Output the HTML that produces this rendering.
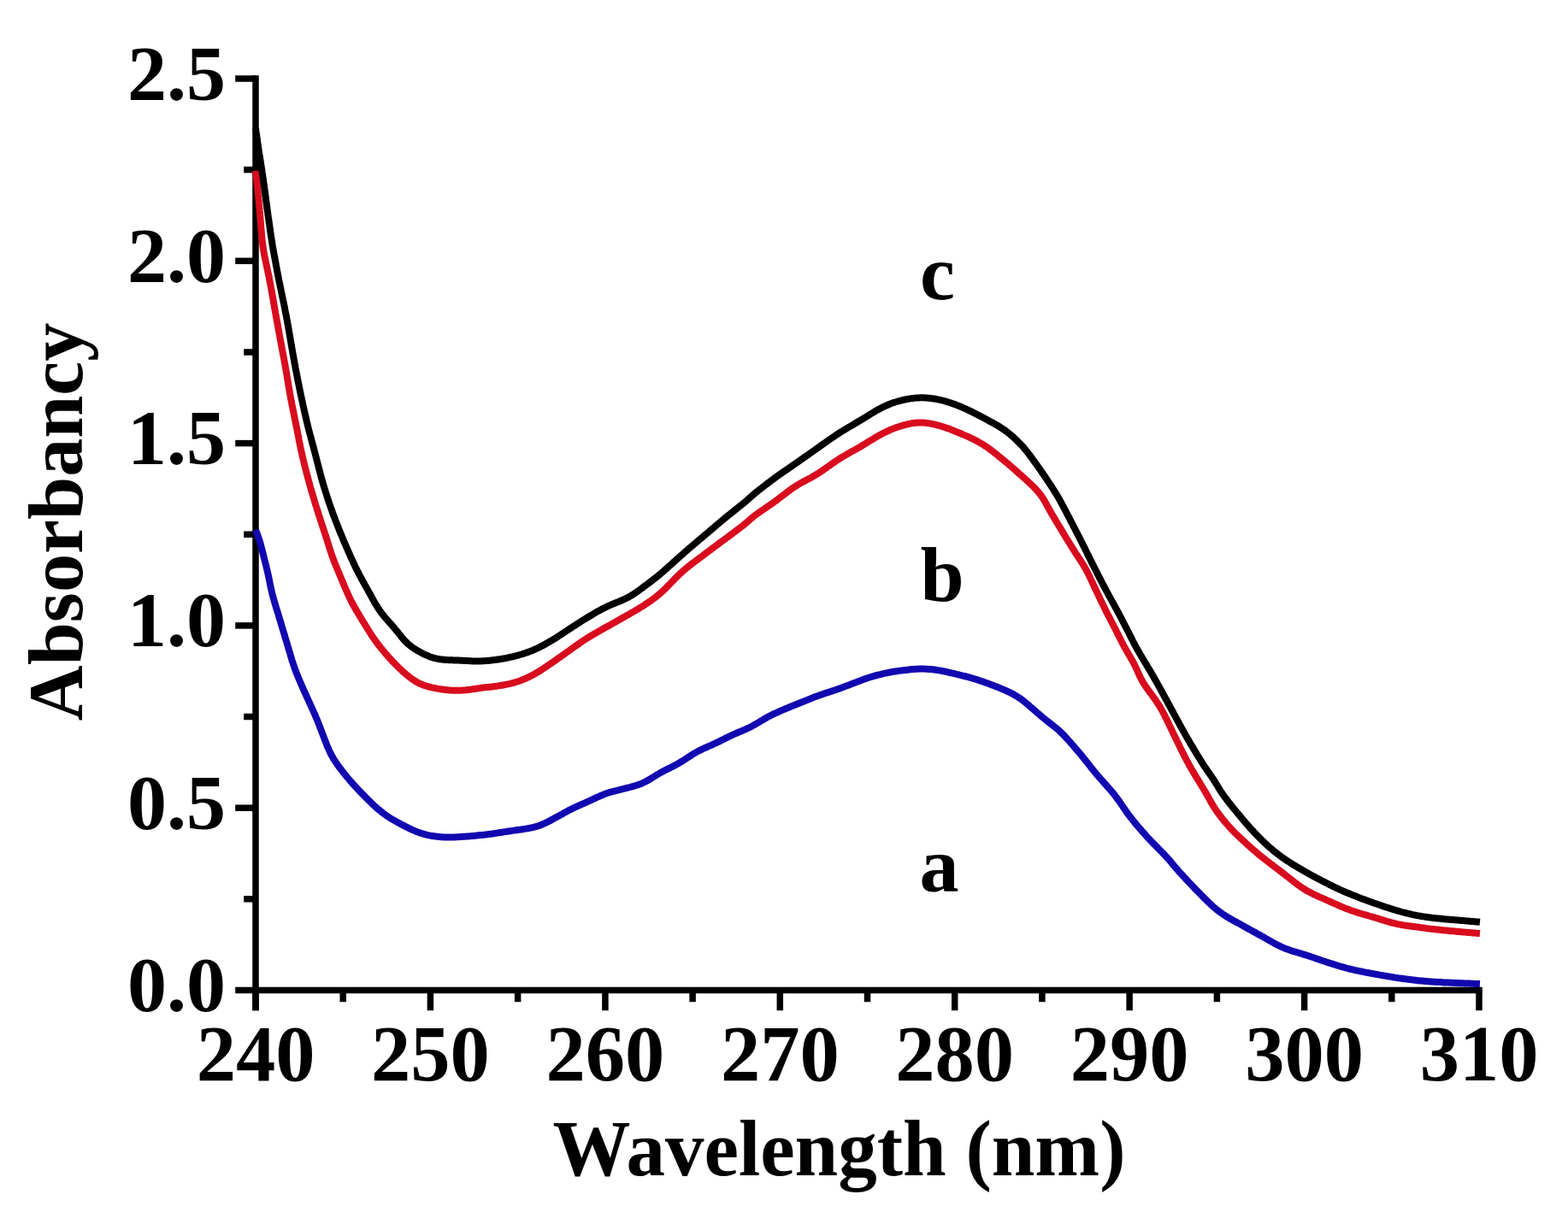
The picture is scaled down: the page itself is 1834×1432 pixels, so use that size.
<!DOCTYPE html>
<html><head><meta charset="utf-8"><style>
html,body{margin:0;padding:0;background:#fff;width:1834px;height:1432px;overflow:hidden}
svg{display:block}
text{font-family:"Liberation Serif","Times New Roman",serif;font-weight:bold;fill:#000}
</style></head><body>
<svg width="1834" height="1432" viewBox="0 0 1834 1432">
<rect width="1834" height="1432" fill="#fff"/>
<g stroke="#000" stroke-width="7.5" stroke-linecap="butt">
<line x1="299" y1="88.25" x2="299" y2="1182.25"/>
<line x1="295.25" y1="1158.5" x2="1733.75" y2="1158.5"/>
<line x1="275.2" y1="1158.5" x2="299.0" y2="1158.5"/>
<line x1="285.2" y1="1051.8" x2="299.0" y2="1051.8"/>
<line x1="275.2" y1="945.2" x2="299.0" y2="945.2"/>
<line x1="285.2" y1="838.5" x2="299.0" y2="838.5"/>
<line x1="275.2" y1="731.9" x2="299.0" y2="731.9"/>
<line x1="285.2" y1="625.2" x2="299.0" y2="625.2"/>
<line x1="275.2" y1="518.6" x2="299.0" y2="518.6"/>
<line x1="285.2" y1="412.0" x2="299.0" y2="412.0"/>
<line x1="275.2" y1="305.3" x2="299.0" y2="305.3"/>
<line x1="285.2" y1="198.6" x2="299.0" y2="198.6"/>
<line x1="275.2" y1="92.0" x2="299.0" y2="92.0"/>
<line x1="299.0" y1="1158.5" x2="299.0" y2="1182.2"/>
<line x1="401.2" y1="1158.5" x2="401.2" y2="1172.2"/>
<line x1="503.4" y1="1158.5" x2="503.4" y2="1182.2"/>
<line x1="605.6" y1="1158.5" x2="605.6" y2="1172.2"/>
<line x1="707.9" y1="1158.5" x2="707.9" y2="1182.2"/>
<line x1="810.1" y1="1158.5" x2="810.1" y2="1172.2"/>
<line x1="912.3" y1="1158.5" x2="912.3" y2="1182.2"/>
<line x1="1014.5" y1="1158.5" x2="1014.5" y2="1172.2"/>
<line x1="1116.7" y1="1158.5" x2="1116.7" y2="1182.2"/>
<line x1="1218.9" y1="1158.5" x2="1218.9" y2="1172.2"/>
<line x1="1321.1" y1="1158.5" x2="1321.1" y2="1182.2"/>
<line x1="1423.4" y1="1158.5" x2="1423.4" y2="1172.2"/>
<line x1="1525.6" y1="1158.5" x2="1525.6" y2="1182.2"/>
<line x1="1627.8" y1="1158.5" x2="1627.8" y2="1172.2"/>
<line x1="1730.0" y1="1158.5" x2="1730.0" y2="1182.2"/>
</g>
<g fill="none" stroke-linejoin="round" stroke-linecap="butt">
<path d="M299.0 620.0 L299.7 621.9 L300.5 623.7 L301.2 625.6 L301.9 627.5 L302.5 629.3 L303.2 631.2 L303.8 633.1 L304.3 635.1 L304.9 637.0 L305.4 638.9 L305.9 640.9 L306.4 642.8 L306.9 644.7 L307.4 646.7 L307.9 648.6 L308.3 650.6 L308.8 652.5 L309.3 654.4 L309.8 656.4 L310.3 658.3 L310.8 660.3 L311.3 662.2 L311.7 664.1 L312.2 666.1 L312.7 668.0 L313.1 670.0 L313.6 671.9 L314.0 673.9 L314.4 675.8 L314.8 677.8 L315.2 679.8 L315.6 681.7 L316.0 683.7 L316.4 685.6 L316.8 687.6 L317.2 689.6 L317.7 691.5 L318.1 693.5 L318.6 695.4 L319.1 697.3 L319.6 699.3 L320.2 701.2 L320.7 703.1 L321.3 705.0 L321.9 707.0 L322.4 708.9 L323.0 710.8 L323.6 712.7 L324.2 714.6 L324.8 716.5 L325.4 718.4 L326.0 720.3 L326.5 722.3 L327.1 724.2 L327.7 726.1 L328.3 728.0 L328.8 729.9 L329.4 731.8 L330.0 733.8 L330.6 735.7 L331.1 737.6 L331.7 739.5 L332.3 741.4 L332.9 743.3 L333.4 745.3 L334.0 747.2 L334.6 749.1 L335.2 751.0 L335.8 752.9 L336.3 754.8 L336.9 756.8 L337.5 758.7 L338.0 760.6 L338.6 762.5 L339.2 764.4 L339.7 766.4 L340.3 768.3 L340.9 770.2 L341.4 772.1 L342.0 774.0 L342.7 775.9 L343.3 777.8 L344.0 779.7 L344.6 781.6 L345.3 783.5 L346.0 785.3 L346.7 787.2 L347.5 789.1 L348.2 790.9 L349.0 792.8 L349.7 794.6 L350.5 796.5 L351.3 798.3 L352.1 800.1 L352.9 802.0 L353.7 803.8 L354.5 805.6 L355.3 807.5 L356.1 809.3 L357.0 811.1 L357.8 812.9 L358.6 814.8 L359.5 816.6 L360.3 818.4 L361.1 820.2 L362.0 822.0 L362.8 823.8 L363.6 825.7 L364.5 827.5 L365.3 829.3 L366.1 831.1 L366.9 833.0 L367.7 834.8 L368.6 836.6 L369.3 838.5 L370.1 840.3 L370.9 842.1 L371.6 844.0 L372.4 845.9 L373.1 847.7 L373.8 849.6 L374.5 851.5 L375.2 853.3 L376.0 855.2 L376.7 857.1 L377.4 858.9 L378.1 860.8 L378.8 862.7 L379.5 864.5 L380.2 866.4 L381.0 868.3 L381.7 870.1 L382.4 872.0 L383.2 873.9 L384.0 875.7 L384.8 877.5 L385.6 879.3 L386.5 881.1 L387.4 882.9 L388.4 884.6 L389.4 886.4 L390.4 888.1 L391.5 889.8 L392.6 891.4 L393.7 893.1 L394.8 894.7 L396.0 896.4 L397.2 898.0 L398.4 899.6 L399.6 901.2 L400.8 902.8 L402.0 904.3 L403.3 905.9 L404.6 907.4 L405.8 909.0 L407.1 910.5 L408.4 912.0 L409.7 913.6 L411.0 915.1 L412.4 916.6 L413.7 918.1 L415.0 919.5 L416.4 921.0 L417.8 922.5 L419.1 923.9 L420.5 925.4 L421.9 926.8 L423.3 928.3 L424.7 929.7 L426.1 931.1 L427.5 932.6 L428.9 934.0 L430.3 935.4 L431.7 936.8 L433.2 938.2 L434.6 939.6 L436.0 941.0 L437.5 942.4 L439.0 943.7 L440.4 945.0 L441.9 946.4 L443.5 947.7 L445.0 948.9 L446.6 950.2 L448.1 951.4 L449.7 952.6 L451.4 953.8 L453.0 954.9 L454.7 956.0 L456.4 957.1 L458.1 958.1 L459.8 959.1 L461.5 960.1 L463.3 961.1 L465.0 962.1 L466.8 963.0 L468.5 964.0 L470.3 964.9 L472.1 965.8 L473.9 966.8 L475.6 967.7 L477.4 968.5 L479.2 969.4 L481.0 970.3 L482.9 971.1 L484.7 971.9 L486.5 972.7 L488.4 973.4 L490.3 974.1 L492.2 974.7 L494.1 975.3 L496.0 975.9 L497.9 976.4 L499.9 976.9 L501.8 977.3 L503.8 977.7 L505.7 978.0 L507.7 978.3 L509.7 978.6 L511.7 978.8 L513.7 979.0 L515.7 979.2 L517.6 979.3 L519.6 979.4 L521.6 979.5 L523.6 979.5 L525.6 979.5 L527.6 979.5 L529.6 979.4 L531.6 979.4 L533.6 979.3 L535.6 979.2 L537.6 979.1 L539.6 978.9 L541.6 978.8 L543.6 978.7 L545.6 978.5 L547.6 978.4 L549.6 978.2 L551.6 978.1 L553.6 977.9 L555.6 977.7 L557.6 977.5 L559.6 977.3 L561.6 977.1 L563.6 976.9 L565.5 976.7 L567.5 976.5 L569.5 976.2 L571.5 976.0 L573.5 975.7 L575.5 975.5 L577.5 975.2 L579.4 974.9 L581.4 974.6 L583.4 974.3 L585.4 974.0 L587.3 973.7 L589.3 973.4 L591.3 973.1 L593.3 972.8 L595.3 972.5 L597.2 972.2 L599.2 971.9 L601.2 971.6 L603.2 971.3 L605.1 971.0 L607.1 970.7 L609.1 970.5 L611.1 970.2 L613.1 969.9 L615.0 969.6 L617.0 969.2 L619.0 968.9 L620.9 968.5 L622.9 968.1 L624.8 967.6 L626.8 967.1 L628.7 966.6 L630.6 965.9 L632.4 965.3 L634.3 964.5 L636.1 963.7 L637.9 962.9 L639.7 962.0 L641.5 961.1 L643.3 960.2 L645.0 959.2 L646.8 958.3 L648.5 957.3 L650.3 956.3 L652.1 955.4 L653.8 954.4 L655.6 953.4 L657.3 952.5 L659.0 951.5 L660.8 950.5 L662.6 949.6 L664.3 948.6 L666.1 947.7 L667.9 946.8 L669.7 945.9 L671.5 945.0 L673.3 944.2 L675.1 943.4 L676.9 942.5 L678.8 941.7 L680.6 940.9 L682.4 940.1 L684.2 939.3 L686.1 938.5 L687.9 937.6 L689.7 936.8 L691.5 936.0 L693.3 935.1 L695.2 934.3 L697.0 933.4 L698.8 932.6 L700.6 931.8 L702.4 931.0 L704.3 930.2 L706.1 929.5 L708.0 928.8 L709.9 928.1 L711.8 927.4 L713.7 926.8 L715.6 926.3 L717.5 925.8 L719.5 925.3 L721.4 924.8 L723.3 924.3 L725.3 923.8 L727.2 923.4 L729.2 922.9 L731.1 922.4 L733.1 921.9 L735.0 921.5 L736.9 921.0 L738.9 920.4 L740.8 919.9 L742.7 919.3 L744.6 918.7 L746.5 918.1 L748.4 917.4 L750.2 916.7 L752.1 915.9 L753.9 915.0 L755.6 914.1 L757.4 913.2 L759.1 912.2 L760.8 911.2 L762.5 910.1 L764.2 909.1 L765.9 908.0 L767.7 907.0 L769.4 905.9 L771.1 904.9 L772.8 903.9 L774.6 903.0 L776.3 902.0 L778.1 901.1 L779.9 900.2 L781.7 899.3 L783.5 898.4 L785.3 897.5 L787.1 896.6 L788.8 895.7 L790.6 894.8 L792.4 893.8 L794.1 892.8 L795.8 891.8 L797.5 890.8 L799.2 889.7 L800.9 888.6 L802.5 887.5 L804.2 886.4 L805.9 885.3 L807.6 884.2 L809.2 883.1 L810.9 882.1 L812.7 881.1 L814.4 880.1 L816.2 879.1 L817.9 878.2 L819.7 877.3 L821.5 876.4 L823.3 875.6 L825.2 874.8 L827.0 874.0 L828.8 873.2 L830.7 872.4 L832.5 871.6 L834.3 870.7 L836.1 869.9 L837.9 869.0 L839.7 868.2 L841.5 867.3 L843.3 866.4 L845.1 865.5 L846.9 864.6 L848.7 863.7 L850.5 862.8 L852.3 861.9 L854.1 861.1 L855.9 860.2 L857.7 859.4 L859.5 858.6 L861.4 857.8 L863.2 857.0 L865.0 856.2 L866.9 855.5 L868.7 854.7 L870.6 853.9 L872.4 853.1 L874.2 852.2 L876.0 851.4 L877.8 850.5 L879.6 849.6 L881.3 848.6 L883.1 847.6 L884.8 846.6 L886.5 845.6 L888.2 844.6 L889.9 843.5 L891.7 842.5 L893.4 841.5 L895.1 840.5 L896.8 839.5 L898.6 838.5 L900.4 837.6 L902.1 836.7 L903.9 835.8 L905.7 834.9 L907.6 834.1 L909.4 833.3 L911.2 832.5 L913.0 831.7 L914.9 830.9 L916.7 830.1 L918.6 829.3 L920.4 828.6 L922.3 827.8 L924.1 827.0 L926.0 826.3 L927.8 825.5 L929.7 824.8 L931.5 824.0 L933.4 823.3 L935.3 822.5 L937.1 821.8 L939.0 821.1 L940.8 820.3 L942.7 819.6 L944.5 818.8 L946.4 818.1 L948.2 817.3 L950.1 816.6 L952.0 815.8 L953.8 815.1 L955.7 814.4 L957.6 813.7 L959.5 813.1 L961.4 812.4 L963.2 811.7 L965.1 811.1 L967.0 810.5 L968.9 809.9 L970.9 809.2 L972.8 808.6 L974.7 808.0 L976.5 807.4 L978.4 806.7 L980.3 806.1 L982.2 805.4 L984.1 804.7 L986.0 804.0 L987.9 803.3 L989.7 802.6 L991.6 801.9 L993.5 801.2 L995.3 800.5 L997.2 799.8 L999.1 799.1 L1001.0 798.4 L1002.8 797.6 L1004.7 796.9 L1006.6 796.2 L1008.4 795.5 L1010.3 794.8 L1012.2 794.1 L1014.1 793.5 L1016.0 792.8 L1017.9 792.2 L1019.8 791.6 L1021.7 791.1 L1023.6 790.5 L1025.6 790.0 L1027.5 789.5 L1029.4 789.1 L1031.4 788.6 L1033.3 788.2 L1035.3 787.7 L1037.2 787.3 L1039.2 786.9 L1041.2 786.5 L1043.1 786.1 L1045.1 785.8 L1047.1 785.5 L1049.1 785.2 L1051.0 784.9 L1053.0 784.6 L1055.0 784.4 L1057.0 784.1 L1059.0 783.9 L1061.0 783.7 L1063.0 783.5 L1064.9 783.3 L1066.9 783.1 L1068.9 782.9 L1070.9 782.8 L1072.9 782.7 L1074.9 782.6 L1076.9 782.6 L1078.9 782.6 L1080.9 782.6 L1082.9 782.7 L1084.9 782.8 L1086.9 782.9 L1088.9 783.1 L1090.9 783.3 L1092.9 783.5 L1094.8 783.8 L1096.8 784.1 L1098.8 784.4 L1100.8 784.7 L1102.7 785.1 L1104.7 785.5 L1106.6 785.9 L1108.6 786.3 L1110.5 786.8 L1112.5 787.3 L1114.4 787.7 L1116.4 788.2 L1118.3 788.7 L1120.3 789.1 L1122.2 789.6 L1124.2 790.1 L1126.1 790.6 L1128.0 791.0 L1130.0 791.5 L1131.9 792.0 L1133.9 792.5 L1135.8 793.1 L1137.7 793.6 L1139.6 794.2 L1141.5 794.8 L1143.4 795.4 L1145.3 796.0 L1147.2 796.7 L1149.1 797.3 L1151.0 798.0 L1152.9 798.7 L1154.8 799.3 L1156.7 800.0 L1158.5 800.7 L1160.4 801.4 L1162.3 802.1 L1164.1 802.9 L1166.0 803.6 L1167.9 804.3 L1169.7 805.1 L1171.6 805.9 L1173.4 806.6 L1175.2 807.4 L1177.1 808.2 L1178.9 809.1 L1180.7 809.9 L1182.5 810.8 L1184.3 811.7 L1186.0 812.7 L1187.8 813.7 L1189.5 814.7 L1191.1 815.8 L1192.8 816.9 L1194.4 818.0 L1196.0 819.2 L1197.6 820.5 L1199.1 821.7 L1200.7 823.0 L1202.2 824.3 L1203.7 825.6 L1205.2 826.9 L1206.7 828.2 L1208.2 829.5 L1209.8 830.8 L1211.3 832.2 L1212.8 833.5 L1214.3 834.8 L1215.8 836.1 L1217.4 837.4 L1218.9 838.7 L1220.4 840.0 L1221.9 841.2 L1223.5 842.5 L1225.0 843.8 L1226.6 845.0 L1228.2 846.2 L1229.8 847.4 L1231.4 848.7 L1232.9 849.9 L1234.5 851.1 L1236.1 852.4 L1237.6 853.7 L1239.1 855.0 L1240.5 856.4 L1241.9 857.8 L1243.3 859.2 L1244.7 860.6 L1246.1 862.1 L1247.4 863.6 L1248.8 865.0 L1250.1 866.5 L1251.4 868.0 L1252.8 869.5 L1254.1 871.0 L1255.4 872.5 L1256.7 874.1 L1258.0 875.6 L1259.3 877.1 L1260.6 878.6 L1261.9 880.1 L1263.2 881.7 L1264.5 883.2 L1265.7 884.8 L1267.0 886.3 L1268.2 887.9 L1269.5 889.4 L1270.7 891.0 L1272.0 892.6 L1273.2 894.2 L1274.5 895.7 L1275.7 897.3 L1276.9 898.9 L1278.2 900.4 L1279.5 902.0 L1280.7 903.5 L1282.0 905.1 L1283.3 906.6 L1284.6 908.1 L1285.9 909.6 L1287.2 911.1 L1288.5 912.6 L1289.9 914.1 L1291.2 915.6 L1292.5 917.1 L1293.9 918.6 L1295.2 920.1 L1296.5 921.6 L1297.8 923.1 L1299.1 924.6 L1300.4 926.2 L1301.7 927.7 L1303.0 929.2 L1304.2 930.8 L1305.4 932.4 L1306.6 934.0 L1307.8 935.6 L1309.0 937.2 L1310.1 938.9 L1311.2 940.5 L1312.4 942.2 L1313.5 943.8 L1314.6 945.5 L1315.8 947.1 L1316.9 948.8 L1318.0 950.4 L1319.2 952.0 L1320.4 953.7 L1321.6 955.3 L1322.8 956.8 L1324.1 958.4 L1325.3 960.0 L1326.6 961.5 L1327.8 963.1 L1329.1 964.6 L1330.4 966.1 L1331.7 967.6 L1333.0 969.2 L1334.3 970.7 L1335.6 972.2 L1337.0 973.7 L1338.3 975.2 L1339.6 976.7 L1340.9 978.2 L1342.3 979.7 L1343.6 981.1 L1345.0 982.6 L1346.4 984.0 L1347.8 985.5 L1349.2 986.9 L1350.6 988.3 L1352.0 989.8 L1353.4 991.2 L1354.8 992.6 L1356.2 994.0 L1357.6 995.5 L1359.0 996.9 L1360.4 998.3 L1361.8 999.8 L1363.1 1001.2 L1364.5 1002.7 L1365.8 1004.2 L1367.2 1005.7 L1368.5 1007.2 L1369.8 1008.7 L1371.0 1010.3 L1372.3 1011.8 L1373.6 1013.3 L1374.9 1014.9 L1376.2 1016.4 L1377.5 1017.9 L1378.8 1019.4 L1380.2 1020.9 L1381.5 1022.3 L1382.9 1023.8 L1384.2 1025.3 L1385.6 1026.8 L1386.9 1028.2 L1388.3 1029.7 L1389.7 1031.2 L1391.0 1032.6 L1392.4 1034.1 L1393.8 1035.5 L1395.2 1037.0 L1396.5 1038.4 L1397.9 1039.8 L1399.3 1041.3 L1400.7 1042.7 L1402.1 1044.1 L1403.5 1045.6 L1404.9 1047.0 L1406.3 1048.4 L1407.7 1049.8 L1409.2 1051.3 L1410.6 1052.7 L1412.0 1054.1 L1413.4 1055.5 L1414.9 1056.9 L1416.3 1058.2 L1417.8 1059.6 L1419.3 1060.9 L1420.8 1062.2 L1422.3 1063.5 L1423.9 1064.8 L1425.5 1066.0 L1427.1 1067.2 L1428.7 1068.4 L1430.3 1069.5 L1432.0 1070.6 L1433.7 1071.7 L1435.4 1072.7 L1437.1 1073.7 L1438.8 1074.8 L1440.6 1075.7 L1442.3 1076.7 L1444.1 1077.7 L1445.8 1078.7 L1447.6 1079.6 L1449.3 1080.6 L1451.1 1081.6 L1452.8 1082.5 L1454.6 1083.5 L1456.3 1084.5 L1458.1 1085.5 L1459.8 1086.4 L1461.6 1087.4 L1463.3 1088.4 L1465.1 1089.3 L1466.8 1090.3 L1468.6 1091.2 L1470.3 1092.2 L1472.1 1093.2 L1473.8 1094.1 L1475.6 1095.1 L1477.3 1096.1 L1479.1 1097.1 L1480.8 1098.1 L1482.5 1099.1 L1484.3 1100.1 L1486.0 1101.1 L1487.7 1102.0 L1489.5 1103.0 L1491.2 1104.0 L1493.0 1104.9 L1494.8 1105.9 L1496.6 1106.7 L1498.4 1107.6 L1500.2 1108.4 L1502.0 1109.2 L1503.9 1109.9 L1505.8 1110.6 L1507.6 1111.3 L1509.5 1111.9 L1511.4 1112.6 L1513.3 1113.2 L1515.3 1113.7 L1517.2 1114.3 L1519.1 1114.9 L1521.0 1115.4 L1522.9 1116.0 L1524.8 1116.6 L1526.8 1117.2 L1528.7 1117.8 L1530.6 1118.4 L1532.5 1119.0 L1534.4 1119.7 L1536.3 1120.3 L1538.2 1121.0 L1540.0 1121.6 L1541.9 1122.3 L1543.8 1122.9 L1545.7 1123.6 L1547.6 1124.2 L1549.5 1124.8 L1551.4 1125.5 L1553.3 1126.1 L1555.2 1126.7 L1557.1 1127.3 L1559.0 1127.9 L1561.0 1128.5 L1562.9 1129.1 L1564.8 1129.7 L1566.7 1130.3 L1568.6 1130.8 L1570.5 1131.4 L1572.5 1131.9 L1574.4 1132.5 L1576.3 1133.0 L1578.3 1133.5 L1580.2 1134.0 L1582.1 1134.4 L1584.1 1134.9 L1586.0 1135.3 L1588.0 1135.7 L1590.0 1136.1 L1591.9 1136.5 L1593.9 1136.9 L1595.8 1137.3 L1597.8 1137.7 L1599.8 1138.0 L1601.7 1138.4 L1603.7 1138.8 L1605.7 1139.1 L1607.6 1139.5 L1609.6 1139.8 L1611.6 1140.2 L1613.6 1140.6 L1615.5 1140.9 L1617.5 1141.3 L1619.5 1141.6 L1621.4 1141.9 L1623.4 1142.3 L1625.4 1142.6 L1627.4 1142.9 L1629.3 1143.2 L1631.3 1143.6 L1633.3 1143.9 L1635.3 1144.2 L1637.2 1144.4 L1639.2 1144.7 L1641.2 1145.0 L1643.2 1145.3 L1645.2 1145.5 L1647.2 1145.8 L1649.1 1146.0 L1651.1 1146.3 L1653.1 1146.5 L1655.1 1146.7 L1657.1 1146.9 L1659.1 1147.2 L1661.1 1147.4 L1663.1 1147.5 L1665.1 1147.7 L1667.1 1147.9 L1669.0 1148.1 L1671.0 1148.2 L1673.0 1148.4 L1675.0 1148.5 L1677.0 1148.7 L1679.0 1148.8 L1681.0 1148.9 L1683.0 1149.0 L1685.0 1149.1 L1687.0 1149.2 L1689.0 1149.4 L1691.0 1149.5 L1693.0 1149.5 L1695.0 1149.6 L1697.0 1149.7 L1699.0 1149.8 L1701.0 1149.9 L1703.0 1150.0 L1705.0 1150.1 L1707.0 1150.2 L1709.0 1150.2 L1711.0 1150.3 L1713.0 1150.4 L1715.0 1150.5 L1717.0 1150.5 L1719.0 1150.6 L1721.0 1150.7 L1723.0 1150.8 L1725.0 1150.9 L1727.0 1150.9 L1729.0 1151.0 L1731.0 1151.1" stroke="#1208b0" stroke-width="8"/>
<path d="M299.0 200.0 L299.2 202.0 L299.5 204.0 L299.7 206.0 L299.9 207.9 L300.2 209.9 L300.4 211.9 L300.6 213.9 L300.8 215.9 L301.0 217.9 L301.3 219.9 L301.5 221.9 L301.7 223.9 L301.9 225.8 L302.0 227.8 L302.2 229.8 L302.4 231.8 L302.6 233.8 L302.8 235.8 L302.9 237.8 L303.1 239.8 L303.3 241.8 L303.5 243.8 L303.6 245.8 L303.8 247.8 L304.0 249.8 L304.1 251.7 L304.3 253.7 L304.5 255.7 L304.6 257.7 L304.8 259.7 L305.0 261.7 L305.1 263.7 L305.3 265.7 L305.5 267.7 L305.6 269.7 L305.8 271.7 L306.0 273.7 L306.1 275.7 L306.3 277.7 L306.5 279.7 L306.7 281.6 L306.9 283.6 L307.2 285.6 L307.4 287.6 L307.7 289.6 L308.0 291.6 L308.3 293.5 L308.7 295.5 L309.0 297.5 L309.4 299.4 L309.8 301.4 L310.2 303.3 L310.6 305.3 L311.0 307.3 L311.5 309.2 L311.9 311.2 L312.3 313.1 L312.7 315.1 L313.1 317.0 L313.5 319.0 L314.0 320.9 L314.4 322.9 L314.8 324.9 L315.1 326.8 L315.5 328.8 L315.9 330.8 L316.3 332.7 L316.6 334.7 L317.0 336.7 L317.4 338.6 L317.7 340.6 L318.1 342.6 L318.4 344.5 L318.8 346.5 L319.1 348.5 L319.5 350.4 L319.8 352.4 L320.1 354.4 L320.5 356.4 L320.8 358.3 L321.2 360.3 L321.5 362.3 L321.9 364.2 L322.2 366.2 L322.6 368.2 L322.9 370.1 L323.3 372.1 L323.6 374.1 L324.0 376.0 L324.4 378.0 L324.7 380.0 L325.1 382.0 L325.4 383.9 L325.8 385.9 L326.2 387.9 L326.5 389.8 L326.9 391.8 L327.2 393.8 L327.6 395.7 L328.0 397.7 L328.3 399.7 L328.7 401.6 L329.1 403.6 L329.4 405.6 L329.8 407.5 L330.1 409.5 L330.5 411.5 L330.9 413.4 L331.3 415.4 L331.6 417.4 L332.0 419.3 L332.4 421.3 L332.7 423.3 L333.1 425.2 L333.5 427.2 L333.8 429.2 L334.2 431.1 L334.5 433.1 L334.8 435.1 L335.2 437.0 L335.5 439.0 L335.8 441.0 L336.1 443.0 L336.5 444.9 L336.8 446.9 L337.1 448.9 L337.4 450.9 L337.8 452.8 L338.1 454.8 L338.4 456.8 L338.8 458.7 L339.1 460.7 L339.5 462.7 L339.8 464.7 L340.2 466.6 L340.6 468.6 L341.0 470.5 L341.3 472.5 L341.7 474.5 L342.1 476.4 L342.5 478.4 L342.9 480.4 L343.3 482.3 L343.7 484.3 L344.1 486.2 L344.5 488.2 L344.9 490.2 L345.3 492.1 L345.7 494.1 L346.1 496.0 L346.5 498.0 L346.9 500.0 L347.3 501.9 L347.6 503.9 L348.0 505.9 L348.4 507.8 L348.8 509.8 L349.2 511.7 L349.5 513.7 L349.9 515.7 L350.3 517.6 L350.7 519.6 L351.1 521.6 L351.5 523.5 L351.9 525.5 L352.3 527.4 L352.8 529.4 L353.2 531.3 L353.6 533.3 L354.1 535.2 L354.5 537.2 L355.0 539.1 L355.5 541.1 L356.0 543.0 L356.4 545.0 L356.9 546.9 L357.4 548.8 L357.9 550.8 L358.4 552.7 L358.9 554.6 L359.4 556.6 L359.9 558.5 L360.5 560.4 L361.0 562.4 L361.5 564.3 L362.0 566.2 L362.6 568.2 L363.1 570.1 L363.7 572.0 L364.2 573.9 L364.8 575.8 L365.4 577.8 L365.9 579.7 L366.5 581.6 L367.1 583.5 L367.7 585.4 L368.2 587.3 L368.8 589.3 L369.4 591.2 L370.0 593.1 L370.6 595.0 L371.2 596.9 L371.8 598.8 L372.4 600.7 L373.0 602.6 L373.6 604.5 L374.2 606.4 L374.8 608.3 L375.5 610.2 L376.1 612.1 L376.7 614.0 L377.3 615.9 L378.0 617.8 L378.6 619.7 L379.2 621.6 L379.8 623.5 L380.5 625.4 L381.1 627.3 L381.7 629.2 L382.3 631.1 L382.9 633.1 L383.5 635.0 L384.1 636.9 L384.7 638.8 L385.3 640.7 L385.9 642.6 L386.5 644.5 L387.1 646.4 L387.8 648.3 L388.4 650.2 L389.1 652.1 L389.8 653.9 L390.5 655.8 L391.2 657.7 L392.0 659.5 L392.7 661.4 L393.5 663.2 L394.2 665.1 L395.0 666.9 L395.8 668.8 L396.5 670.6 L397.3 672.5 L398.1 674.3 L398.8 676.2 L399.6 678.0 L400.4 679.9 L401.2 681.7 L401.9 683.6 L402.7 685.4 L403.5 687.2 L404.3 689.1 L405.1 690.9 L405.9 692.7 L406.7 694.6 L407.5 696.4 L408.4 698.2 L409.2 700.0 L410.1 701.8 L411.0 703.6 L411.9 705.4 L412.9 707.1 L413.8 708.9 L414.8 710.6 L415.8 712.4 L416.8 714.1 L417.8 715.8 L418.8 717.5 L419.9 719.2 L420.9 721.0 L421.9 722.7 L423.0 724.4 L424.0 726.1 L425.1 727.8 L426.1 729.5 L427.2 731.2 L428.2 732.9 L429.3 734.6 L430.3 736.3 L431.4 738.0 L432.4 739.7 L433.5 741.4 L434.6 743.1 L435.7 744.7 L436.8 746.4 L438.0 748.0 L439.1 749.7 L440.3 751.3 L441.5 752.9 L442.7 754.5 L443.9 756.1 L445.1 757.6 L446.4 759.2 L447.7 760.7 L449.0 762.3 L450.2 763.8 L451.5 765.3 L452.9 766.8 L454.2 768.3 L455.5 769.8 L456.9 771.3 L458.2 772.7 L459.6 774.2 L461.0 775.6 L462.4 777.1 L463.8 778.5 L465.2 779.9 L466.7 781.3 L468.1 782.7 L469.6 784.0 L471.0 785.4 L472.5 786.7 L474.0 788.0 L475.5 789.3 L477.1 790.6 L478.6 791.9 L480.2 793.1 L481.8 794.3 L483.5 795.4 L485.1 796.5 L486.8 797.5 L488.5 798.5 L490.3 799.4 L492.1 800.3 L494.0 801.0 L495.8 801.7 L497.7 802.4 L499.6 802.9 L501.5 803.5 L503.5 803.9 L505.4 804.4 L507.4 804.8 L509.3 805.2 L511.3 805.6 L513.3 805.9 L515.2 806.2 L517.2 806.5 L519.2 806.8 L521.2 807.0 L523.2 807.2 L525.2 807.4 L527.1 807.6 L529.1 807.7 L531.1 807.7 L533.1 807.8 L535.1 807.8 L537.1 807.7 L539.1 807.7 L541.1 807.6 L543.1 807.4 L545.1 807.3 L547.1 807.1 L549.1 806.9 L551.1 806.6 L553.0 806.3 L555.0 806.0 L557.0 805.7 L559.0 805.4 L560.9 805.1 L562.9 804.8 L564.9 804.6 L566.9 804.3 L568.9 804.1 L570.8 803.9 L572.8 803.7 L574.8 803.4 L576.8 803.2 L578.8 802.9 L580.8 802.7 L582.8 802.4 L584.7 802.1 L586.7 801.8 L588.7 801.5 L590.6 801.1 L592.6 800.7 L594.6 800.3 L596.5 799.9 L598.5 799.4 L600.4 798.9 L602.3 798.4 L604.2 797.8 L606.1 797.2 L608.0 796.5 L609.9 795.8 L611.7 795.1 L613.6 794.3 L615.4 793.5 L617.2 792.7 L619.0 791.8 L620.8 790.9 L622.6 790.0 L624.3 789.0 L626.1 788.1 L627.8 787.0 L629.5 786.0 L631.2 785.0 L632.9 783.9 L634.6 782.8 L636.2 781.7 L637.9 780.6 L639.6 779.5 L641.2 778.3 L642.9 777.2 L644.5 776.1 L646.2 774.9 L647.8 773.8 L649.5 772.7 L651.1 771.5 L652.7 770.4 L654.4 769.2 L656.0 768.1 L657.6 766.9 L659.3 765.8 L660.9 764.6 L662.5 763.4 L664.2 762.3 L665.8 761.1 L667.4 760.0 L669.0 758.8 L670.7 757.6 L672.3 756.5 L673.9 755.3 L675.6 754.2 L677.2 753.0 L678.8 751.9 L680.5 750.7 L682.1 749.6 L683.8 748.5 L685.5 747.4 L687.2 746.3 L688.9 745.3 L690.6 744.2 L692.3 743.2 L694.0 742.2 L695.7 741.2 L697.5 740.2 L699.2 739.2 L700.9 738.2 L702.7 737.2 L704.4 736.3 L706.2 735.3 L707.9 734.3 L709.7 733.3 L711.4 732.4 L713.2 731.4 L714.9 730.4 L716.6 729.4 L718.4 728.4 L720.1 727.5 L721.9 726.5 L723.6 725.5 L725.4 724.5 L727.1 723.5 L728.9 722.5 L730.6 721.6 L732.3 720.6 L734.1 719.6 L735.8 718.6 L737.5 717.6 L739.3 716.6 L741.0 715.6 L742.7 714.6 L744.4 713.6 L746.2 712.5 L747.9 711.5 L749.6 710.4 L751.3 709.4 L753.0 708.3 L754.6 707.2 L756.3 706.1 L758.0 705.0 L759.6 703.9 L761.3 702.7 L762.9 701.6 L764.5 700.4 L766.1 699.2 L767.7 698.0 L769.2 696.7 L770.8 695.4 L772.3 694.1 L773.8 692.8 L775.2 691.5 L776.7 690.1 L778.1 688.7 L779.5 687.3 L780.9 685.8 L782.3 684.4 L783.7 683.0 L785.1 681.5 L786.5 680.1 L787.9 678.7 L789.3 677.2 L790.7 675.8 L792.1 674.4 L793.6 673.0 L795.0 671.6 L796.5 670.3 L797.9 668.9 L799.4 667.6 L801.0 666.3 L802.5 665.0 L804.0 663.7 L805.6 662.5 L807.1 661.2 L808.7 660.0 L810.3 658.8 L811.9 657.6 L813.5 656.4 L815.1 655.2 L816.7 654.0 L818.3 652.8 L819.9 651.6 L821.5 650.4 L823.1 649.2 L824.7 648.0 L826.3 646.8 L827.9 645.6 L829.5 644.4 L831.1 643.2 L832.7 642.0 L834.3 640.8 L835.9 639.6 L837.5 638.4 L839.1 637.2 L840.7 636.0 L842.3 634.8 L844.0 633.6 L845.6 632.4 L847.2 631.2 L848.8 630.1 L850.4 628.9 L852.0 627.7 L853.6 626.5 L855.2 625.3 L856.8 624.1 L858.4 622.9 L860.0 621.7 L861.6 620.5 L863.2 619.3 L864.8 618.1 L866.4 616.9 L868.0 615.6 L869.5 614.4 L871.1 613.1 L872.6 611.9 L874.1 610.6 L875.6 609.2 L877.1 607.9 L878.6 606.6 L880.1 605.4 L881.6 604.1 L883.2 602.9 L884.8 601.7 L886.5 600.5 L888.1 599.4 L889.7 598.3 L891.4 597.1 L893.0 596.0 L894.7 594.9 L896.3 593.8 L898.0 592.6 L899.6 591.5 L901.3 590.3 L902.9 589.2 L904.5 588.0 L906.2 586.8 L907.8 585.7 L909.4 584.5 L911.0 583.2 L912.5 582.0 L914.1 580.8 L915.7 579.6 L917.3 578.4 L918.9 577.2 L920.5 575.9 L922.1 574.7 L923.7 573.6 L925.3 572.4 L926.9 571.2 L928.6 570.1 L930.3 569.0 L932.0 568.0 L933.7 566.9 L935.4 565.9 L937.1 564.9 L938.9 564.0 L940.6 563.0 L942.4 562.1 L944.2 561.1 L945.9 560.2 L947.7 559.3 L949.5 558.3 L951.2 557.3 L952.9 556.3 L954.6 555.3 L956.3 554.2 L958.0 553.2 L959.7 552.1 L961.3 550.9 L963.0 549.8 L964.6 548.6 L966.3 547.5 L967.9 546.3 L969.5 545.2 L971.1 544.0 L972.8 542.8 L974.4 541.7 L976.0 540.6 L977.7 539.4 L979.4 538.3 L981.0 537.2 L982.7 536.2 L984.4 535.1 L986.2 534.1 L987.9 533.1 L989.6 532.1 L991.3 531.1 L993.1 530.1 L994.8 529.1 L996.6 528.1 L998.3 527.2 L1000.1 526.2 L1001.8 525.2 L1003.5 524.2 L1005.3 523.2 L1007.0 522.2 L1008.7 521.2 L1010.4 520.1 L1012.1 519.1 L1013.8 518.0 L1015.5 517.0 L1017.2 515.9 L1018.9 514.9 L1020.7 513.9 L1022.4 512.8 L1024.1 511.8 L1025.8 510.8 L1027.6 509.8 L1029.3 508.8 L1031.1 507.9 L1032.8 506.9 L1034.6 506.0 L1036.4 505.2 L1038.2 504.3 L1040.0 503.5 L1041.8 502.7 L1043.7 501.9 L1045.6 501.2 L1047.4 500.5 L1049.3 499.8 L1051.2 499.2 L1053.1 498.6 L1055.0 498.0 L1057.0 497.5 L1058.9 497.0 L1060.8 496.5 L1062.8 496.0 L1064.7 495.6 L1066.7 495.2 L1068.6 494.9 L1070.6 494.7 L1072.6 494.5 L1074.6 494.4 L1076.6 494.4 L1078.6 494.4 L1080.5 494.5 L1082.5 494.7 L1084.5 494.9 L1086.5 495.3 L1088.4 495.6 L1090.4 496.0 L1092.3 496.4 L1094.3 496.9 L1096.2 497.4 L1098.1 497.9 L1100.1 498.4 L1102.0 499.0 L1103.9 499.6 L1105.8 500.2 L1107.7 500.9 L1109.6 501.5 L1111.5 502.2 L1113.3 502.9 L1115.2 503.7 L1117.0 504.4 L1118.9 505.2 L1120.7 505.9 L1122.6 506.7 L1124.4 507.5 L1126.2 508.3 L1128.1 509.1 L1129.9 509.9 L1131.7 510.7 L1133.6 511.5 L1135.4 512.4 L1137.2 513.2 L1139.0 514.1 L1140.8 515.0 L1142.5 515.9 L1144.3 516.9 L1146.0 517.9 L1147.8 518.9 L1149.5 519.9 L1151.2 521.0 L1152.8 522.1 L1154.5 523.2 L1156.1 524.3 L1157.7 525.5 L1159.3 526.7 L1160.9 527.9 L1162.5 529.2 L1164.1 530.4 L1165.6 531.6 L1167.2 532.9 L1168.7 534.2 L1170.3 535.4 L1171.8 536.7 L1173.4 538.0 L1174.9 539.3 L1176.4 540.5 L1178.0 541.8 L1179.5 543.1 L1181.0 544.4 L1182.5 545.7 L1184.0 547.0 L1185.6 548.3 L1187.1 549.7 L1188.6 551.0 L1190.0 552.3 L1191.5 553.7 L1193.0 555.0 L1194.5 556.3 L1196.0 557.6 L1197.5 559.0 L1199.0 560.3 L1200.5 561.7 L1202.0 563.0 L1203.4 564.4 L1204.9 565.7 L1206.3 567.1 L1207.8 568.5 L1209.2 569.9 L1210.6 571.3 L1212.0 572.8 L1213.3 574.3 L1214.6 575.8 L1215.9 577.3 L1217.1 578.9 L1218.2 580.5 L1219.4 582.2 L1220.4 583.8 L1221.5 585.6 L1222.4 587.3 L1223.4 589.0 L1224.4 590.8 L1225.3 592.5 L1226.3 594.3 L1227.3 596.0 L1228.2 597.8 L1229.2 599.5 L1230.2 601.3 L1231.2 603.0 L1232.3 604.7 L1233.3 606.4 L1234.3 608.1 L1235.3 609.9 L1236.4 611.6 L1237.4 613.3 L1238.4 615.0 L1239.5 616.7 L1240.5 618.4 L1241.5 620.1 L1242.6 621.9 L1243.6 623.6 L1244.6 625.3 L1245.7 627.0 L1246.7 628.7 L1247.7 630.4 L1248.8 632.1 L1249.8 633.8 L1250.9 635.5 L1251.9 637.2 L1253.0 638.9 L1254.0 640.6 L1255.1 642.3 L1256.2 644.0 L1257.2 645.7 L1258.3 647.4 L1259.4 649.1 L1260.5 650.7 L1261.6 652.4 L1262.7 654.1 L1263.8 655.7 L1264.9 657.4 L1266.0 659.1 L1267.0 660.8 L1268.0 662.5 L1269.0 664.2 L1270.0 666.0 L1271.0 667.8 L1271.9 669.5 L1272.8 671.3 L1273.7 673.1 L1274.6 674.9 L1275.4 676.7 L1276.3 678.5 L1277.1 680.3 L1278.0 682.1 L1278.8 683.9 L1279.7 685.8 L1280.5 687.6 L1281.4 689.4 L1282.2 691.2 L1283.1 693.0 L1284.0 694.8 L1284.8 696.6 L1285.7 698.4 L1286.5 700.2 L1287.4 702.0 L1288.3 703.8 L1289.1 705.6 L1290.0 707.4 L1290.9 709.2 L1291.8 711.0 L1292.6 712.8 L1293.5 714.6 L1294.4 716.4 L1295.3 718.2 L1296.2 720.0 L1297.2 721.7 L1298.1 723.5 L1299.0 725.3 L1299.9 727.1 L1300.8 728.8 L1301.8 730.6 L1302.7 732.4 L1303.6 734.2 L1304.5 735.9 L1305.4 737.7 L1306.3 739.5 L1307.2 741.3 L1308.1 743.1 L1309.0 744.9 L1309.9 746.6 L1310.8 748.4 L1311.7 750.2 L1312.6 752.0 L1313.5 753.8 L1314.5 755.6 L1315.4 757.3 L1316.4 759.1 L1317.4 760.8 L1318.4 762.5 L1319.4 764.3 L1320.4 766.0 L1321.4 767.7 L1322.4 769.4 L1323.4 771.2 L1324.4 772.9 L1325.4 774.7 L1326.3 776.4 L1327.2 778.2 L1328.1 780.0 L1328.9 781.8 L1329.8 783.6 L1330.6 785.5 L1331.4 787.3 L1332.2 789.1 L1333.0 790.9 L1333.9 792.7 L1334.8 794.5 L1335.8 796.2 L1336.8 798.0 L1337.8 799.7 L1338.9 801.3 L1340.0 803.0 L1341.1 804.7 L1342.3 806.3 L1343.5 807.9 L1344.6 809.5 L1345.8 811.1 L1347.0 812.7 L1348.2 814.3 L1349.4 816.0 L1350.5 817.6 L1351.7 819.2 L1352.8 820.9 L1353.9 822.5 L1355.0 824.2 L1356.1 825.9 L1357.1 827.6 L1358.1 829.4 L1359.1 831.1 L1360.0 832.8 L1361.0 834.6 L1361.9 836.4 L1362.8 838.2 L1363.7 840.0 L1364.6 841.8 L1365.5 843.6 L1366.3 845.4 L1367.2 847.2 L1368.0 849.0 L1368.9 850.8 L1369.8 852.6 L1370.6 854.4 L1371.5 856.2 L1372.3 858.0 L1373.2 859.8 L1374.1 861.6 L1375.0 863.4 L1375.9 865.2 L1376.7 867.0 L1377.6 868.8 L1378.5 870.6 L1379.4 872.4 L1380.2 874.2 L1381.1 876.0 L1382.0 877.8 L1382.9 879.6 L1383.8 881.3 L1384.7 883.1 L1385.6 884.9 L1386.5 886.7 L1387.4 888.5 L1388.4 890.2 L1389.3 892.0 L1390.3 893.7 L1391.2 895.5 L1392.2 897.2 L1393.2 899.0 L1394.2 900.7 L1395.2 902.4 L1396.3 904.2 L1397.3 905.9 L1398.3 907.6 L1399.3 909.3 L1400.4 911.0 L1401.4 912.7 L1402.5 914.4 L1403.5 916.1 L1404.6 917.8 L1405.6 919.5 L1406.6 921.2 L1407.7 923.0 L1408.7 924.7 L1409.7 926.4 L1410.7 928.1 L1411.7 929.9 L1412.7 931.6 L1413.7 933.4 L1414.6 935.1 L1415.6 936.9 L1416.6 938.6 L1417.6 940.3 L1418.6 942.1 L1419.6 943.8 L1420.7 945.4 L1421.8 947.1 L1422.9 948.8 L1424.1 950.4 L1425.3 952.0 L1426.5 953.6 L1427.7 955.2 L1428.9 956.8 L1430.1 958.3 L1431.4 959.9 L1432.7 961.4 L1434.0 963.0 L1435.3 964.5 L1436.6 966.0 L1437.9 967.5 L1439.3 968.9 L1440.6 970.4 L1442.0 971.8 L1443.4 973.3 L1444.8 974.7 L1446.3 976.1 L1447.7 977.5 L1449.2 978.9 L1450.6 980.2 L1452.1 981.6 L1453.5 983.0 L1455.0 984.3 L1456.4 985.7 L1457.9 987.1 L1459.4 988.4 L1460.9 989.7 L1462.4 991.1 L1463.9 992.4 L1465.4 993.7 L1466.9 995.0 L1468.4 996.3 L1469.9 997.6 L1471.5 998.9 L1473.0 1000.2 L1474.6 1001.4 L1476.1 1002.7 L1477.7 1003.9 L1479.3 1005.2 L1480.8 1006.4 L1482.4 1007.6 L1484.0 1008.8 L1485.6 1010.1 L1487.2 1011.3 L1488.8 1012.5 L1490.4 1013.7 L1492.0 1014.9 L1493.5 1016.1 L1495.1 1017.3 L1496.7 1018.5 L1498.3 1019.8 L1499.9 1021.0 L1501.5 1022.2 L1503.1 1023.4 L1504.6 1024.7 L1506.2 1025.9 L1507.8 1027.1 L1509.4 1028.4 L1510.9 1029.6 L1512.5 1030.8 L1514.1 1032.1 L1515.7 1033.3 L1517.3 1034.5 L1518.9 1035.7 L1520.5 1036.8 L1522.1 1038.0 L1523.8 1039.1 L1525.5 1040.2 L1527.2 1041.2 L1528.9 1042.2 L1530.6 1043.2 L1532.4 1044.1 L1534.2 1045.1 L1536.0 1046.0 L1537.8 1046.8 L1539.6 1047.7 L1541.4 1048.5 L1543.2 1049.3 L1545.1 1050.1 L1546.9 1050.9 L1548.7 1051.7 L1550.5 1052.5 L1552.4 1053.4 L1554.2 1054.2 L1556.0 1055.0 L1557.9 1055.8 L1559.7 1056.6 L1561.5 1057.4 L1563.3 1058.2 L1565.2 1059.0 L1567.0 1059.8 L1568.8 1060.6 L1570.7 1061.4 L1572.5 1062.2 L1574.4 1062.9 L1576.3 1063.6 L1578.1 1064.3 L1580.0 1065.0 L1581.9 1065.7 L1583.8 1066.3 L1585.7 1066.9 L1587.6 1067.6 L1589.5 1068.1 L1591.4 1068.7 L1593.3 1069.3 L1595.3 1069.8 L1597.2 1070.4 L1599.1 1070.9 L1601.0 1071.5 L1602.9 1072.0 L1604.9 1072.6 L1606.8 1073.2 L1608.7 1073.7 L1610.6 1074.3 L1612.5 1074.9 L1614.4 1075.5 L1616.3 1076.1 L1618.3 1076.7 L1620.2 1077.3 L1622.1 1077.9 L1624.0 1078.4 L1625.9 1079.0 L1627.9 1079.5 L1629.8 1080.0 L1631.7 1080.4 L1633.7 1080.9 L1635.6 1081.3 L1637.6 1081.7 L1639.6 1082.0 L1641.5 1082.4 L1643.5 1082.7 L1645.5 1083.0 L1647.5 1083.2 L1649.5 1083.5 L1651.4 1083.8 L1653.4 1084.1 L1655.4 1084.3 L1657.4 1084.6 L1659.4 1084.8 L1661.4 1085.1 L1663.3 1085.4 L1665.3 1085.6 L1667.3 1085.9 L1669.3 1086.2 L1671.3 1086.4 L1673.3 1086.7 L1675.2 1086.9 L1677.2 1087.1 L1679.2 1087.4 L1681.2 1087.6 L1683.2 1087.8 L1685.2 1088.0 L1687.2 1088.2 L1689.2 1088.4 L1691.1 1088.6 L1693.1 1088.8 L1695.1 1089.0 L1697.1 1089.2 L1699.1 1089.3 L1701.1 1089.5 L1703.1 1089.7 L1705.1 1089.9 L1707.1 1090.0 L1709.1 1090.2 L1711.1 1090.4 L1713.1 1090.6 L1715.1 1090.7 L1717.0 1090.9 L1719.0 1091.1 L1721.0 1091.2 L1723.0 1091.4 L1725.0 1091.6 L1727.0 1091.8 L1729.0 1091.9 L1731.0 1092.1" stroke="#d80c1e" stroke-width="8"/>
<path d="M299.0 150.0 L299.3 152.0 L299.5 154.0 L299.8 155.9 L300.1 157.9 L300.4 159.9 L300.6 161.9 L300.9 163.9 L301.2 165.9 L301.5 167.8 L301.8 169.8 L302.1 171.8 L302.3 173.8 L302.6 175.8 L302.9 177.7 L303.2 179.7 L303.6 181.7 L303.9 183.7 L304.2 185.6 L304.5 187.6 L304.8 189.6 L305.1 191.6 L305.4 193.5 L305.7 195.5 L306.1 197.5 L306.4 199.5 L306.6 201.5 L306.9 203.4 L307.2 205.4 L307.5 207.4 L307.8 209.4 L308.1 211.4 L308.3 213.3 L308.6 215.3 L308.9 217.3 L309.2 219.3 L309.4 221.3 L309.7 223.3 L310.0 225.2 L310.2 227.2 L310.5 229.2 L310.8 231.2 L311.0 233.2 L311.3 235.2 L311.5 237.1 L311.8 239.1 L312.1 241.1 L312.3 243.1 L312.6 245.1 L312.9 247.1 L313.2 249.0 L313.4 251.0 L313.7 253.0 L314.0 255.0 L314.3 257.0 L314.5 258.9 L314.8 260.9 L315.1 262.9 L315.4 264.9 L315.7 266.9 L315.9 268.8 L316.2 270.8 L316.5 272.8 L316.8 274.8 L317.1 276.8 L317.4 278.7 L317.7 280.7 L318.0 282.7 L318.3 284.7 L318.6 286.7 L319.0 288.6 L319.3 290.6 L319.7 292.6 L320.0 294.5 L320.4 296.5 L320.7 298.5 L321.1 300.4 L321.5 302.4 L321.8 304.4 L322.2 306.3 L322.6 308.3 L322.9 310.3 L323.3 312.2 L323.7 314.2 L324.0 316.2 L324.4 318.1 L324.8 320.1 L325.2 322.1 L325.5 324.0 L325.9 326.0 L326.3 328.0 L326.7 329.9 L327.1 331.9 L327.5 333.8 L327.9 335.8 L328.3 337.8 L328.7 339.7 L329.1 341.7 L329.5 343.6 L329.9 345.6 L330.3 347.6 L330.8 349.5 L331.2 351.5 L331.6 353.4 L332.0 355.4 L332.4 357.4 L332.8 359.3 L333.2 361.3 L333.5 363.2 L333.9 365.2 L334.3 367.2 L334.7 369.1 L335.1 371.1 L335.4 373.1 L335.8 375.0 L336.2 377.0 L336.5 379.0 L336.9 380.9 L337.2 382.9 L337.6 384.9 L337.9 386.9 L338.2 388.8 L338.6 390.8 L338.9 392.8 L339.3 394.7 L339.6 396.7 L339.9 398.7 L340.3 400.7 L340.6 402.6 L340.9 404.6 L341.3 406.6 L341.6 408.5 L342.0 410.5 L342.3 412.5 L342.7 414.5 L343.0 416.4 L343.4 418.4 L343.7 420.4 L344.1 422.3 L344.4 424.3 L344.8 426.3 L345.2 428.2 L345.5 430.2 L345.9 432.2 L346.3 434.1 L346.7 436.1 L347.1 438.1 L347.5 440.0 L347.8 442.0 L348.2 444.0 L348.6 445.9 L349.0 447.9 L349.4 449.8 L349.8 451.8 L350.2 453.8 L350.6 455.7 L351.0 457.7 L351.4 459.6 L351.8 461.6 L352.2 463.6 L352.6 465.5 L353.1 467.5 L353.5 469.4 L353.9 471.4 L354.3 473.3 L354.7 475.3 L355.2 477.3 L355.6 479.2 L356.0 481.2 L356.5 483.1 L356.9 485.1 L357.4 487.0 L357.8 489.0 L358.3 490.9 L358.7 492.9 L359.2 494.8 L359.7 496.7 L360.1 498.7 L360.6 500.6 L361.1 502.6 L361.6 504.5 L362.1 506.4 L362.6 508.4 L363.2 510.3 L363.7 512.2 L364.2 514.2 L364.7 516.1 L365.2 518.0 L365.7 520.0 L366.3 521.9 L366.8 523.8 L367.3 525.8 L367.8 527.7 L368.3 529.6 L368.8 531.6 L369.3 533.5 L369.8 535.5 L370.3 537.4 L370.8 539.3 L371.3 541.3 L371.8 543.2 L372.3 545.1 L372.8 547.1 L373.3 549.0 L373.8 551.0 L374.3 552.9 L374.8 554.8 L375.3 556.8 L375.8 558.7 L376.4 560.6 L376.9 562.5 L377.5 564.5 L378.0 566.4 L378.6 568.3 L379.2 570.2 L379.8 572.1 L380.4 574.1 L381.0 576.0 L381.6 577.9 L382.2 579.8 L382.8 581.7 L383.4 583.6 L384.0 585.5 L384.7 587.4 L385.3 589.3 L386.0 591.2 L386.6 593.1 L387.3 594.9 L388.0 596.8 L388.6 598.7 L389.3 600.6 L390.0 602.5 L390.7 604.3 L391.4 606.2 L392.1 608.1 L392.8 610.0 L393.6 611.8 L394.3 613.7 L395.0 615.5 L395.8 617.4 L396.5 619.3 L397.2 621.1 L398.0 623.0 L398.8 624.8 L399.5 626.7 L400.3 628.5 L401.1 630.4 L401.8 632.2 L402.6 634.1 L403.4 635.9 L404.2 637.7 L405.0 639.6 L405.8 641.4 L406.6 643.2 L407.4 645.1 L408.2 646.9 L409.0 648.7 L409.8 650.6 L410.6 652.4 L411.5 654.2 L412.3 656.0 L413.1 657.8 L414.0 659.7 L414.8 661.5 L415.7 663.3 L416.6 665.1 L417.5 666.9 L418.4 668.6 L419.3 670.4 L420.2 672.2 L421.1 674.0 L422.1 675.7 L423.0 677.5 L424.0 679.2 L425.0 681.0 L425.9 682.7 L426.9 684.5 L427.9 686.2 L428.9 688.0 L429.9 689.7 L430.8 691.5 L431.8 693.2 L432.8 695.0 L433.7 696.7 L434.7 698.5 L435.7 700.2 L436.6 702.0 L437.6 703.7 L438.6 705.5 L439.6 707.2 L440.7 708.9 L441.7 710.6 L442.8 712.3 L443.9 713.9 L445.1 715.6 L446.2 717.2 L447.5 718.8 L448.7 720.3 L450.0 721.9 L451.3 723.4 L452.6 724.9 L453.9 726.4 L455.2 727.9 L456.6 729.4 L457.9 730.9 L459.2 732.4 L460.5 733.9 L461.8 735.4 L463.1 737.0 L464.3 738.5 L465.6 740.1 L466.8 741.7 L468.1 743.2 L469.3 744.8 L470.6 746.3 L471.9 747.8 L473.2 749.3 L474.6 750.7 L476.0 752.1 L477.5 753.5 L479.0 754.8 L480.6 756.0 L482.2 757.2 L483.8 758.3 L485.5 759.4 L487.2 760.5 L488.9 761.5 L490.6 762.5 L492.4 763.4 L494.1 764.4 L495.9 765.3 L497.7 766.1 L499.6 766.9 L501.4 767.7 L503.3 768.4 L505.1 769.1 L507.0 769.6 L509.0 770.2 L510.9 770.6 L512.9 771.0 L514.8 771.3 L516.8 771.5 L518.8 771.7 L520.8 771.9 L522.8 772.1 L524.8 772.2 L526.8 772.3 L528.8 772.3 L530.8 772.4 L532.8 772.5 L534.8 772.6 L536.8 772.6 L538.8 772.7 L540.8 772.8 L542.8 772.9 L544.8 773.0 L546.7 773.1 L548.7 773.2 L550.7 773.3 L552.7 773.4 L554.7 773.4 L556.7 773.5 L558.7 773.5 L560.7 773.5 L562.7 773.4 L564.7 773.3 L566.7 773.2 L568.7 773.1 L570.7 772.9 L572.7 772.7 L574.7 772.5 L576.7 772.3 L578.7 772.1 L580.7 771.8 L582.6 771.5 L584.6 771.2 L586.6 770.9 L588.6 770.5 L590.5 770.2 L592.5 769.8 L594.4 769.4 L596.4 769.0 L598.3 768.5 L600.3 768.1 L602.2 767.6 L604.2 767.1 L606.1 766.6 L608.0 766.0 L609.9 765.5 L611.9 764.9 L613.8 764.3 L615.7 763.6 L617.5 763.0 L619.4 762.3 L621.3 761.6 L623.1 760.8 L625.0 760.0 L626.8 759.2 L628.6 758.4 L630.4 757.5 L632.2 756.6 L634.0 755.7 L635.7 754.7 L637.5 753.8 L639.2 752.8 L641.0 751.8 L642.7 750.8 L644.4 749.8 L646.2 748.8 L647.9 747.7 L649.6 746.7 L651.3 745.6 L652.9 744.5 L654.6 743.4 L656.3 742.3 L658.0 741.2 L659.6 740.1 L661.3 739.0 L663.0 737.9 L664.6 736.8 L666.3 735.7 L668.0 734.6 L669.6 733.5 L671.3 732.4 L673.0 731.3 L674.7 730.2 L676.4 729.2 L678.0 728.1 L679.7 727.0 L681.4 725.9 L683.1 724.9 L684.8 723.8 L686.5 722.8 L688.2 721.7 L689.9 720.7 L691.6 719.7 L693.4 718.6 L695.1 717.6 L696.8 716.6 L698.6 715.6 L700.3 714.7 L702.1 713.7 L703.8 712.8 L705.6 711.8 L707.4 710.9 L709.2 710.1 L711.0 709.2 L712.8 708.4 L714.7 707.6 L716.5 706.8 L718.3 706.1 L720.2 705.3 L722.1 704.6 L723.9 703.8 L725.7 703.0 L727.6 702.2 L729.4 701.4 L731.2 700.6 L733.0 699.7 L734.8 698.8 L736.5 697.8 L738.3 696.8 L740.0 695.8 L741.6 694.7 L743.3 693.6 L744.9 692.4 L746.6 691.3 L748.2 690.1 L749.8 688.9 L751.4 687.7 L753.0 686.5 L754.6 685.3 L756.2 684.1 L757.8 682.9 L759.4 681.7 L761.0 680.5 L762.6 679.3 L764.2 678.1 L765.7 676.8 L767.3 675.6 L768.9 674.3 L770.4 673.1 L772.0 671.8 L773.5 670.5 L775.0 669.2 L776.5 667.9 L778.0 666.6 L779.5 665.3 L781.0 663.9 L782.5 662.6 L784.0 661.2 L785.5 659.9 L787.0 658.6 L788.4 657.2 L789.9 655.9 L791.4 654.5 L792.9 653.2 L794.4 651.9 L795.9 650.5 L797.4 649.2 L798.9 647.9 L800.4 646.6 L801.9 645.2 L803.4 643.9 L804.9 642.6 L806.4 641.3 L808.0 640.0 L809.5 638.7 L811.0 637.4 L812.5 636.1 L814.1 634.9 L815.6 633.6 L817.1 632.3 L818.6 631.0 L820.2 629.7 L821.7 628.4 L823.2 627.1 L824.7 625.8 L826.3 624.5 L827.8 623.2 L829.3 621.9 L830.8 620.6 L832.4 619.3 L833.9 618.0 L835.4 616.7 L836.9 615.4 L838.5 614.1 L840.0 612.8 L841.5 611.6 L843.1 610.3 L844.6 609.0 L846.1 607.7 L847.7 606.4 L849.2 605.2 L850.8 603.9 L852.3 602.6 L853.9 601.4 L855.5 600.1 L857.0 598.9 L858.6 597.6 L860.1 596.4 L861.7 595.1 L863.3 593.9 L864.8 592.7 L866.4 591.4 L868.0 590.1 L869.5 588.9 L871.0 587.6 L872.6 586.3 L874.1 585.0 L875.6 583.7 L877.0 582.3 L878.5 581.0 L880.0 579.7 L881.6 578.4 L883.1 577.1 L884.6 575.8 L886.2 574.6 L887.7 573.3 L889.3 572.1 L890.9 570.9 L892.5 569.6 L894.1 568.4 L895.6 567.2 L897.2 566.0 L898.8 564.8 L900.4 563.6 L902.0 562.3 L903.6 561.2 L905.2 560.0 L906.8 558.8 L908.5 557.6 L910.1 556.4 L911.7 555.3 L913.3 554.1 L915.0 553.0 L916.6 551.8 L918.3 550.7 L919.9 549.6 L921.6 548.4 L923.2 547.3 L924.9 546.2 L926.5 545.0 L928.2 543.9 L929.8 542.7 L931.4 541.6 L933.1 540.4 L934.7 539.3 L936.4 538.2 L938.0 537.0 L939.6 535.9 L941.3 534.7 L942.9 533.6 L944.5 532.4 L946.2 531.3 L947.8 530.1 L949.5 529.0 L951.1 527.8 L952.7 526.7 L954.4 525.5 L956.0 524.4 L957.6 523.2 L959.3 522.0 L960.9 520.9 L962.5 519.7 L964.2 518.6 L965.8 517.4 L967.4 516.3 L969.1 515.1 L970.7 514.0 L972.4 512.8 L974.0 511.7 L975.7 510.6 L977.3 509.4 L979.0 508.3 L980.7 507.2 L982.3 506.2 L984.0 505.1 L985.7 504.0 L987.4 503.0 L989.2 502.0 L990.9 500.9 L992.6 499.9 L994.3 498.9 L996.0 497.9 L997.8 496.9 L999.5 495.8 L1001.2 494.8 L1002.9 493.8 L1004.6 492.8 L1006.4 491.8 L1008.1 490.7 L1009.8 489.7 L1011.5 488.6 L1013.2 487.6 L1014.9 486.5 L1016.6 485.5 L1018.3 484.4 L1020.0 483.4 L1021.7 482.4 L1023.4 481.3 L1025.2 480.3 L1026.9 479.3 L1028.7 478.4 L1030.4 477.5 L1032.2 476.5 L1034.0 475.7 L1035.8 474.8 L1037.6 474.0 L1039.5 473.2 L1041.3 472.5 L1043.2 471.8 L1045.1 471.1 L1047.0 470.5 L1048.9 470.0 L1050.8 469.4 L1052.8 468.9 L1054.7 468.4 L1056.6 467.9 L1058.6 467.5 L1060.6 467.1 L1062.5 466.7 L1064.5 466.4 L1066.5 466.1 L1068.4 465.9 L1070.4 465.6 L1072.4 465.5 L1074.4 465.4 L1076.4 465.3 L1078.4 465.3 L1080.4 465.3 L1082.4 465.4 L1084.4 465.6 L1086.4 465.7 L1088.4 465.9 L1090.3 466.2 L1092.3 466.5 L1094.3 466.8 L1096.2 467.2 L1098.2 467.6 L1100.2 468.0 L1102.1 468.5 L1104.0 469.0 L1106.0 469.5 L1107.9 470.1 L1109.8 470.7 L1111.7 471.3 L1113.6 472.0 L1115.5 472.6 L1117.3 473.3 L1119.2 474.1 L1121.1 474.8 L1122.9 475.5 L1124.8 476.3 L1126.6 477.1 L1128.4 477.9 L1130.2 478.7 L1132.1 479.6 L1133.9 480.4 L1135.7 481.3 L1137.5 482.2 L1139.3 483.1 L1141.0 484.0 L1142.8 484.9 L1144.6 485.8 L1146.4 486.8 L1148.1 487.7 L1149.9 488.6 L1151.7 489.6 L1153.4 490.5 L1155.2 491.5 L1156.9 492.4 L1158.7 493.4 L1160.5 494.3 L1162.2 495.3 L1163.9 496.3 L1165.7 497.3 L1167.4 498.3 L1169.1 499.3 L1170.8 500.4 L1172.5 501.5 L1174.1 502.6 L1175.8 503.8 L1177.4 505.0 L1178.9 506.2 L1180.5 507.4 L1182.0 508.7 L1183.6 510.0 L1185.0 511.3 L1186.5 512.7 L1188.0 514.1 L1189.4 515.4 L1190.8 516.8 L1192.3 518.3 L1193.7 519.7 L1195.0 521.1 L1196.4 522.6 L1197.7 524.1 L1199.0 525.6 L1200.2 527.2 L1201.5 528.8 L1202.7 530.3 L1203.9 531.9 L1205.1 533.5 L1206.3 535.1 L1207.5 536.8 L1208.7 538.4 L1209.8 540.0 L1211.0 541.6 L1212.2 543.2 L1213.3 544.9 L1214.5 546.5 L1215.6 548.1 L1216.8 549.8 L1217.9 551.4 L1219.1 553.1 L1220.2 554.7 L1221.3 556.4 L1222.5 558.0 L1223.6 559.7 L1224.7 561.3 L1225.8 563.0 L1226.9 564.7 L1228.0 566.3 L1229.1 568.0 L1230.2 569.7 L1231.3 571.4 L1232.4 573.1 L1233.4 574.8 L1234.5 576.5 L1235.5 578.2 L1236.6 579.9 L1237.6 581.6 L1238.6 583.3 L1239.6 585.1 L1240.5 586.8 L1241.5 588.6 L1242.4 590.3 L1243.4 592.1 L1244.3 593.9 L1245.2 595.6 L1246.2 597.4 L1247.1 599.2 L1248.0 601.0 L1248.9 602.8 L1249.9 604.5 L1250.8 606.3 L1251.7 608.1 L1252.6 609.9 L1253.5 611.6 L1254.5 613.4 L1255.4 615.2 L1256.3 617.0 L1257.2 618.7 L1258.1 620.5 L1259.0 622.3 L1260.0 624.1 L1260.9 625.9 L1261.8 627.6 L1262.7 629.4 L1263.6 631.2 L1264.5 633.0 L1265.4 634.8 L1266.3 636.6 L1267.2 638.4 L1268.1 640.2 L1269.0 641.9 L1269.9 643.7 L1270.7 645.5 L1271.6 647.3 L1272.5 649.1 L1273.4 650.9 L1274.3 652.7 L1275.2 654.5 L1276.1 656.3 L1277.0 658.1 L1277.9 659.9 L1278.8 661.7 L1279.7 663.4 L1280.6 665.2 L1281.5 667.0 L1282.4 668.8 L1283.3 670.6 L1284.2 672.4 L1285.1 674.1 L1286.0 675.9 L1286.9 677.7 L1287.9 679.5 L1288.8 681.3 L1289.7 683.0 L1290.6 684.8 L1291.6 686.6 L1292.5 688.3 L1293.4 690.1 L1294.4 691.9 L1295.3 693.6 L1296.3 695.4 L1297.2 697.1 L1298.2 698.9 L1299.2 700.7 L1300.1 702.4 L1301.1 704.2 L1302.1 705.9 L1303.1 707.7 L1304.0 709.4 L1305.0 711.2 L1305.9 712.9 L1306.9 714.7 L1307.8 716.4 L1308.8 718.2 L1309.7 720.0 L1310.6 721.8 L1311.6 723.5 L1312.5 725.3 L1313.4 727.1 L1314.3 728.9 L1315.2 730.6 L1316.1 732.4 L1317.1 734.2 L1318.0 736.0 L1318.9 737.8 L1319.8 739.5 L1320.7 741.3 L1321.6 743.1 L1322.5 744.9 L1323.4 746.7 L1324.3 748.5 L1325.2 750.3 L1326.1 752.0 L1327.0 753.8 L1328.0 755.6 L1328.9 757.3 L1329.9 759.1 L1330.9 760.8 L1331.9 762.6 L1332.9 764.3 L1333.9 766.0 L1334.9 767.7 L1335.9 769.5 L1337.0 771.2 L1338.0 772.9 L1339.0 774.6 L1340.1 776.3 L1341.1 778.0 L1342.1 779.8 L1343.1 781.5 L1344.2 783.2 L1345.2 784.9 L1346.2 786.6 L1347.2 788.4 L1348.2 790.1 L1349.2 791.8 L1350.2 793.6 L1351.2 795.3 L1352.2 797.0 L1353.2 798.8 L1354.1 800.5 L1355.1 802.3 L1356.1 804.0 L1357.0 805.8 L1358.0 807.5 L1359.0 809.3 L1359.9 811.1 L1360.9 812.8 L1361.8 814.6 L1362.8 816.3 L1363.7 818.1 L1364.7 819.8 L1365.7 821.6 L1366.6 823.4 L1367.6 825.1 L1368.5 826.9 L1369.5 828.6 L1370.4 830.4 L1371.4 832.1 L1372.3 833.9 L1373.3 835.7 L1374.3 837.4 L1375.2 839.2 L1376.2 840.9 L1377.1 842.7 L1378.1 844.5 L1379.0 846.2 L1380.0 848.0 L1380.9 849.7 L1381.9 851.5 L1382.9 853.2 L1383.9 855.0 L1384.8 856.7 L1385.8 858.5 L1386.8 860.2 L1387.8 861.9 L1388.8 863.7 L1389.8 865.4 L1390.8 867.1 L1391.8 868.9 L1392.8 870.6 L1393.9 872.3 L1394.9 874.0 L1395.9 875.8 L1396.9 877.5 L1398.0 879.2 L1399.0 880.9 L1400.0 882.6 L1401.1 884.3 L1402.1 886.0 L1403.2 887.7 L1404.2 889.4 L1405.3 891.1 L1406.4 892.8 L1407.4 894.5 L1408.5 896.2 L1409.6 897.8 L1410.8 899.5 L1411.9 901.1 L1413.0 902.8 L1414.2 904.4 L1415.3 906.1 L1416.5 907.7 L1417.6 909.4 L1418.7 911.0 L1419.8 912.7 L1420.9 914.4 L1421.9 916.1 L1423.0 917.8 L1424.0 919.5 L1425.0 921.2 L1426.1 922.9 L1427.1 924.6 L1428.2 926.3 L1429.3 928.0 L1430.5 929.6 L1431.6 931.2 L1432.8 932.8 L1434.0 934.5 L1435.2 936.0 L1436.4 937.6 L1437.6 939.2 L1438.9 940.8 L1440.1 942.3 L1441.4 943.9 L1442.6 945.5 L1443.9 947.0 L1445.2 948.6 L1446.4 950.1 L1447.7 951.6 L1449.0 953.2 L1450.3 954.7 L1451.6 956.2 L1452.9 957.8 L1454.2 959.3 L1455.5 960.8 L1456.8 962.3 L1458.1 963.9 L1459.4 965.4 L1460.7 966.9 L1462.0 968.4 L1463.4 969.9 L1464.7 971.3 L1466.1 972.8 L1467.4 974.3 L1468.8 975.7 L1470.2 977.2 L1471.6 978.6 L1473.0 980.0 L1474.4 981.4 L1475.8 982.8 L1477.3 984.2 L1478.7 985.6 L1480.2 987.0 L1481.7 988.3 L1483.1 989.7 L1484.6 991.0 L1486.2 992.3 L1487.7 993.6 L1489.2 994.9 L1490.7 996.2 L1492.3 997.4 L1493.9 998.7 L1495.4 999.9 L1497.0 1001.1 L1498.6 1002.3 L1500.3 1003.5 L1501.9 1004.6 L1503.5 1005.7 L1505.2 1006.8 L1506.9 1007.9 L1508.6 1009.0 L1510.3 1010.1 L1512.0 1011.2 L1513.7 1012.2 L1515.4 1013.2 L1517.1 1014.3 L1518.8 1015.3 L1520.5 1016.3 L1522.2 1017.3 L1524.0 1018.3 L1525.7 1019.3 L1527.4 1020.3 L1529.2 1021.3 L1530.9 1022.3 L1532.7 1023.3 L1534.4 1024.2 L1536.2 1025.2 L1538.0 1026.1 L1539.7 1027.1 L1541.5 1028.0 L1543.3 1028.9 L1545.0 1029.8 L1546.8 1030.8 L1548.6 1031.7 L1550.4 1032.6 L1552.2 1033.5 L1553.9 1034.4 L1555.7 1035.3 L1557.5 1036.2 L1559.3 1037.1 L1561.1 1038.0 L1562.9 1038.8 L1564.7 1039.7 L1566.5 1040.5 L1568.4 1041.4 L1570.2 1042.2 L1572.0 1043.0 L1573.9 1043.8 L1575.7 1044.5 L1577.6 1045.3 L1579.4 1046.1 L1581.3 1046.8 L1583.1 1047.6 L1585.0 1048.3 L1586.8 1049.0 L1588.7 1049.8 L1590.6 1050.5 L1592.4 1051.2 L1594.3 1051.9 L1596.2 1052.6 L1598.1 1053.3 L1599.9 1054.0 L1601.8 1054.6 L1603.7 1055.3 L1605.6 1056.0 L1607.5 1056.7 L1609.4 1057.3 L1611.3 1058.0 L1613.2 1058.6 L1615.0 1059.3 L1616.9 1059.9 L1618.8 1060.6 L1620.7 1061.2 L1622.6 1061.8 L1624.5 1062.4 L1626.4 1063.0 L1628.4 1063.6 L1630.3 1064.2 L1632.2 1064.8 L1634.1 1065.4 L1636.0 1065.9 L1638.0 1066.5 L1639.9 1067.0 L1641.8 1067.5 L1643.8 1068.0 L1645.7 1068.5 L1647.6 1069.0 L1649.6 1069.4 L1651.5 1069.9 L1653.5 1070.3 L1655.4 1070.7 L1657.4 1071.1 L1659.4 1071.4 L1661.3 1071.8 L1663.3 1072.1 L1665.3 1072.4 L1667.3 1072.7 L1669.2 1073.0 L1671.2 1073.3 L1673.2 1073.5 L1675.2 1073.8 L1677.2 1074.0 L1679.2 1074.2 L1681.2 1074.4 L1683.2 1074.6 L1685.2 1074.8 L1687.1 1075.0 L1689.1 1075.2 L1691.1 1075.4 L1693.1 1075.6 L1695.1 1075.8 L1697.1 1076.0 L1699.1 1076.1 L1701.1 1076.3 L1703.1 1076.5 L1705.1 1076.6 L1707.1 1076.8 L1709.1 1077.0 L1711.1 1077.1 L1713.1 1077.3 L1715.0 1077.5 L1717.0 1077.6 L1719.0 1077.8 L1721.0 1078.0 L1723.0 1078.1 L1725.0 1078.3 L1727.0 1078.5 L1729.0 1078.6 L1731.0 1078.8" stroke="#000" stroke-width="8"/>
</g>
<g font-size="92">
<text x="264.0" y="1183.0" text-anchor="end">0.0</text>
<text x="264.0" y="969.7" text-anchor="end">0.5</text>
<text x="264.0" y="756.4" text-anchor="end">1.0</text>
<text x="264.0" y="543.1" text-anchor="end">1.5</text>
<text x="264.0" y="329.8" text-anchor="end">2.0</text>
<text x="264.0" y="116.5" text-anchor="end">2.5</text>
</g>
<g font-size="92.5">
<text x="299.0" y="1264.0" text-anchor="middle">240</text>
<text x="503.4" y="1264.0" text-anchor="middle">250</text>
<text x="707.9" y="1264.0" text-anchor="middle">260</text>
<text x="912.3" y="1264.0" text-anchor="middle">270</text>
<text x="1116.7" y="1264.0" text-anchor="middle">280</text>
<text x="1321.1" y="1264.0" text-anchor="middle">290</text>
<text x="1525.6" y="1264.0" text-anchor="middle">300</text>
<text x="1730.0" y="1264.0" text-anchor="middle">310</text>
</g>
<g font-size="92" text-anchor="middle">
<text x="1096.5" y="350">c</text>
<text x="1102" y="703">b</text>
<text x="1098.5" y="1043">a</text>
</g>
<text x="981.5" y="1375" font-size="93" text-anchor="middle" textLength="669.9" lengthAdjust="spacingAndGlyphs">Wavelength (nm)</text>
<text transform="translate(96,610.5) rotate(-90)" font-size="92" text-anchor="middle" textLength="465.9" lengthAdjust="spacingAndGlyphs">Absorbancy</text>
</svg>
</body></html>
